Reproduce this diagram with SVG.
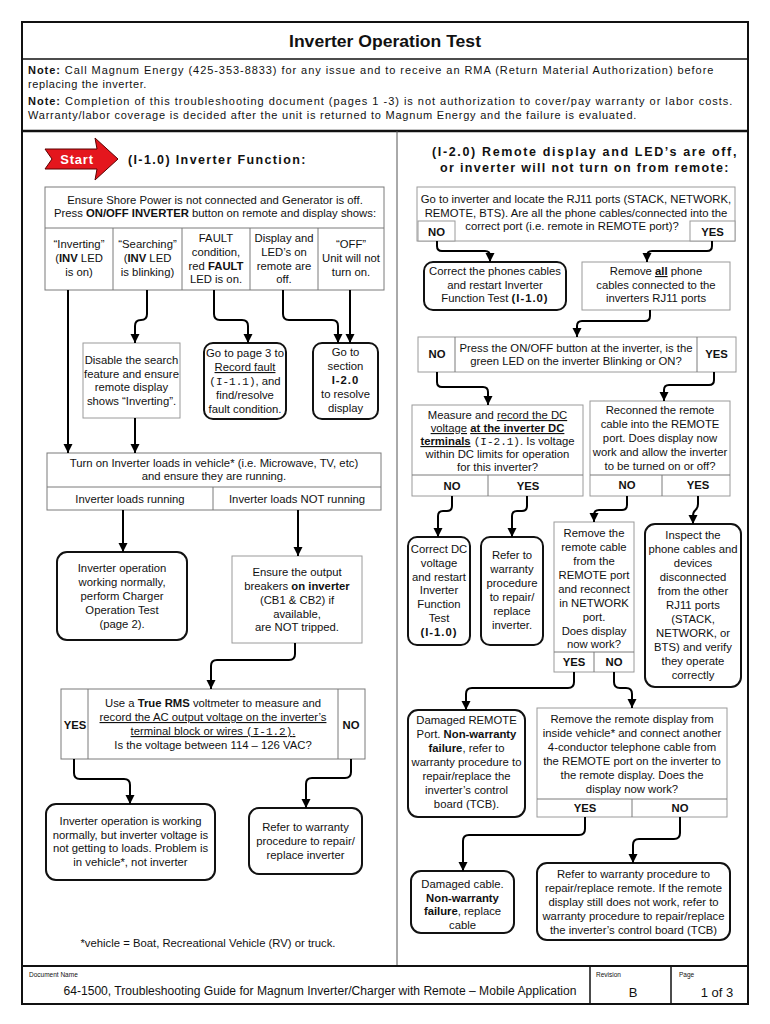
<svg xmlns="http://www.w3.org/2000/svg" width="770" height="1024" viewBox="0 0 770 1024">
<defs>
<marker id="ah" markerUnits="userSpaceOnUse" markerWidth="10" markerHeight="10" refX="9" refY="5" orient="auto"><path d="M0,0.5 L9,5 L0,9.5 z" fill="#000"/></marker>
<style>
text{font-family:"Liberation Sans",Arial,Helvetica,sans-serif;font-size:11.3px;fill:#111;text-anchor:middle}
.l{text-anchor:start}
.b{font-weight:bold}
.u{text-decoration:underline}
.m{font-family:"Liberation Mono","Courier New",monospace;font-size:11px}
.sp{letter-spacing:1px}
.note{font-size:11px;letter-spacing:0.6px;text-anchor:start}
.h{font-weight:bold;font-size:12.5px;letter-spacing:1.6px}
.rb{fill:#fff;stroke:#111;stroke-width:2}
.gb{fill:#fff;stroke:#9a9a9a;stroke-width:1}
.tb{fill:#fff;stroke:#7a7a7a;stroke-width:1}
.ln{stroke:#7a7a7a;stroke-width:1}
.c{fill:none;stroke:#000;stroke-width:2;marker-end:url(#ah)}
.sm{font-size:6.5px;text-anchor:start}
</style>
</defs>
<rect width="770" height="1024" fill="#fff"/>

<g id="frame">
<rect x="22" y="22" width="726" height="982" fill="none" stroke="#111" stroke-width="2"/>
<line x1="22" y1="59" x2="748" y2="59" stroke="#111" stroke-width="1.5"/>
<line x1="22" y1="131" x2="748" y2="131" stroke="#111" stroke-width="2.5"/>
<line x1="397" y1="131" x2="397" y2="966" stroke="#555" stroke-width="1"/>
<line x1="22" y1="966" x2="748" y2="966" stroke="#111" stroke-width="2"/>
<line x1="590" y1="966" x2="590" y2="1004" stroke="#111" stroke-width="1.5"/>
<line x1="671" y1="966" x2="671" y2="1004" stroke="#111" stroke-width="1.5"/>
</g>

<g id="header">
<text x="385" y="47" class="b" style="font-size:17px" textLength="192" lengthAdjust="spacingAndGlyphs">Inverter Operation Test</text>
<text x="28" y="74" class="note" textLength="686"><tspan class="b">Note:</tspan> Call Magnum Energy (425-353-8833) for any issue and to receive an RMA (Return Material Authorization) before</text>
<text x="28" y="88" class="note">replacing the inverter.</text>
<text x="28" y="105" class="note" textLength="705"><tspan class="b">Note:</tspan> Completion of this troubleshooting document (pages 1 -3) is not authorization to cover/pay warranty or labor costs.</text>
<text x="28" y="119" class="note" textLength="609">Warranty/labor coverage is decided after the unit is returned to Magnum Energy and the failure is evaluated.</text>
</g>

<g id="start">
<path d="M45,149 L97,149 L95,138 L118,159 L95,180 L97,169 L45,169 L52,159 Z" fill="#e4161d" stroke="#5a0000" stroke-width="1"/>
<text x="77" y="164" class="b" style="fill:#fff;font-size:13px;letter-spacing:0.8px">Start</text>
<text x="128" y="164" class="h l" textLength="179">(I-1.0) Inverter Function:</text>
</g>

<g id="n-ensure">
<rect x="45" y="187" width="339" height="103" class="tb"/>
<line x1="45" y1="228" x2="384" y2="228" class="ln"/>
<line x1="113" y1="228" x2="113" y2="290" class="ln"/>
<line x1="182" y1="228" x2="182" y2="290" class="ln"/>
<line x1="250" y1="228" x2="250" y2="290" class="ln"/>
<line x1="318" y1="228" x2="318" y2="290" class="ln"/>
<text x="215" y="204">Ensure Shore Power is not connected and Generator is off.</text>
<text x="215" y="217">Press <tspan class="b">ON/OFF INVERTER</tspan> button on remote and display shows:</text>
<text x="79" y="248">“Inverting”</text>
<text x="79" y="262">(<tspan class="b">INV</tspan> LED</text>
<text x="79" y="276">is on)</text>
<text x="147.5" y="248">“Searching”</text>
<text x="147.5" y="262">(<tspan class="b">INV</tspan> LED</text>
<text x="147.5" y="276">is blinking)</text>
<text x="216" y="242">FAULT</text>
<text x="216" y="256">condition,</text>
<text x="216" y="270">red <tspan class="b">FAULT</tspan></text>
<text x="216" y="283">LED is on.</text>
<text x="284" y="242">Display and</text>
<text x="284" y="256">LED’s on</text>
<text x="284" y="270">remote are</text>
<text x="284" y="283">off.</text>
<text x="351" y="248">“OFF”</text>
<text x="351" y="262">Unit will not</text>
<text x="351" y="276">turn on.</text>
</g>

<g id="n-disable">
<rect x="83" y="343" width="97" height="75" class="gb"/>
<text x="131.5" y="364">Disable the search</text>
<text x="131.5" y="378">feature and ensure</text>
<text x="131.5" y="391">remote display</text>
<text x="131.5" y="405">shows “Inverting”.</text>
</g>

<g id="n-page3">
<rect x="204" y="343" width="82" height="76" rx="9" class="rb"/>
<text x="245" y="357">Go to page 3 to</text>
<text x="245" y="371" class="u">Record fault</text>
<text x="245" y="385"><tspan class="m">(I-1.1)</tspan>, and</text>
<text x="245" y="399">find/resolve</text>
<text x="245" y="413">fault condition.</text>
</g>

<g id="n-section">
<rect x="313" y="343" width="65" height="76" rx="9" class="rb"/>
<text x="345.5" y="356">Go to</text>
<text x="345.5" y="370">section</text>
<text x="345.5" y="384" class="b sp">I-2.0</text>
<text x="345.5" y="398">to resolve</text>
<text x="345.5" y="412">display</text>
</g>

<g id="n-loads">
<rect x="47" y="453" width="334" height="57" class="tb"/>
<line x1="47" y1="487" x2="381" y2="487" class="ln"/>
<line x1="213" y1="487" x2="213" y2="510" class="ln"/>
<text x="214" y="467">Turn on Inverter loads in vehicle* (i.e. Microwave, TV, etc)</text>
<text x="214" y="480">and ensure they are running.</text>
<text x="130" y="503">Inverter loads running</text>
<text x="297" y="503">Inverter loads NOT running</text>
</g>

<g id="n-normal">
<rect x="57" y="552" width="130" height="88" rx="10" class="rb"/>
<text x="122" y="572">Inverter operation</text>
<text x="122" y="586">working normally,</text>
<text x="122" y="600">perform Charger</text>
<text x="122" y="614">Operation Test</text>
<text x="122" y="628">(page 2).</text>
</g>

<g id="n-breakers">
<rect x="232" y="556" width="130" height="87" class="gb"/>
<text x="297" y="576">Ensure the output</text>
<text x="297" y="590">breakers <tspan class="b">on inverter</tspan></text>
<text x="297" y="604">(CB1 &amp; CB2) if</text>
<text x="297" y="618">available,</text>
<text x="297" y="631">are NOT tripped.</text>
</g>

<g id="n-rms">
<rect x="61" y="689" width="304" height="70" class="tb"/>
<line x1="88" y1="689" x2="88" y2="759" class="ln"/>
<line x1="338" y1="689" x2="338" y2="759" class="ln"/>
<text x="75" y="729" class="b">YES</text>
<text x="351" y="729" class="b">NO</text>
<text x="213" y="707">Use a <tspan class="b">True RMS</tspan> voltmeter to measure and</text>
<text x="213" y="721" class="u">record the AC output voltage on the inverter’s</text>
<text x="213" y="735" class="u">terminal block or wires <tspan class="m">(I-1.2)</tspan>.</text>
<text x="213" y="749">Is the voltage between 114 – 126 VAC?</text>
</g>

<g id="n-vehicle">
<rect x="46" y="804" width="169" height="76" rx="10" class="rb"/>
<text x="130.5" y="825">Inverter operation is working</text>
<text x="130.5" y="839">normally, but inverter voltage is</text>
<text x="130.5" y="852">not getting to loads. Problem is</text>
<text x="130.5" y="866">in vehicle*, not inverter</text>
</g>

<g id="n-refer-inv">
<rect x="249" y="808" width="113" height="66" rx="10" class="rb"/>
<text x="305.5" y="831">Refer to warranty</text>
<text x="305.5" y="845">procedure to repair/</text>
<text x="305.5" y="859">replace inverter</text>
</g>

<g id="footnote">
<text x="208" y="947">*vehicle = Boat, Recreational Vehicle (RV) or truck.</text>
</g>

<g id="r-title">
<text x="585" y="156" class="h" textLength="306">(I-2.0) Remote display and LED’s are off,</text>
<text x="585" y="172" class="h" textLength="290">or inverter will not turn on from remote:</text>
</g>

<g id="r-ports">
<rect x="417" y="187" width="318" height="54" class="gb"/>
<rect x="418" y="221" width="37" height="20" class="gb"/>
<rect x="690" y="221" width="45" height="20" class="gb"/>
<text x="576" y="203">Go to inverter and locate the RJ11 ports (STACK, NETWORK,</text>
<text x="576" y="217">REMOTE, BTS). Are all the phone cables/connected into the</text>
<text x="572" y="230">correct port (i.e. remote in REMOTE port)?</text>
<text x="436.5" y="236" class="b">NO</text>
<text x="712.5" y="236" class="b">YES</text>
</g>

<g id="r-correct">
<rect x="424" y="262" width="142" height="48" rx="9" class="rb"/>
<text x="495" y="275">Correct the phones cables</text>
<text x="495" y="289">and restart Inverter</text>
<text x="495" y="302">Function Test <tspan class="b sp">(I-1.0)</tspan></text>
</g>

<g id="r-removeall">
<rect x="582" y="262" width="148" height="48" class="gb"/>
<text x="656" y="275">Remove <tspan class="b u">all</tspan> phone</text>
<text x="656" y="289">cables connected to the</text>
<text x="656" y="302">inverters RJ11 ports</text>
</g>

<g id="r-press">
<rect x="418" y="337" width="318" height="35" class="gb"/>
<line x1="455" y1="337" x2="455" y2="372" class="ln"/>
<line x1="697" y1="337" x2="697" y2="372" class="ln"/>
<text x="437" y="358" class="b">NO</text>
<text x="716.5" y="358" class="b">YES</text>
<text x="576" y="352">Press the ON/OFF button at the inverter, is the</text>
<text x="576" y="365">green LED on the inverter Blinking or ON?</text>
</g>

<g id="r-measure">
<rect x="412" y="405" width="171" height="91" class="gb"/>
<line x1="412" y1="475" x2="583" y2="475" class="ln"/>
<line x1="488" y1="475" x2="488" y2="496" class="ln"/>
<text x="497.5" y="419">Measure and <tspan class="u">record  the DC</tspan></text>
<text x="497.5" y="432"><tspan class="u">voltage</tspan> <tspan class="b u">at the inverter DC</tspan></text>
<text x="497.5" y="445"><tspan class="b u">terminals</tspan> <tspan class="m">(I-2.1)</tspan>. Is voltage</text>
<text x="497.5" y="458">within DC limits for operation</text>
<text x="497.5" y="471">for this inverter?</text>
<text x="452" y="490" class="b">NO</text>
<text x="528" y="490" class="b">YES</text>
</g>

<g id="r-reconnect">
<rect x="590" y="401" width="140" height="95" class="gb"/>
<line x1="590" y1="475" x2="730" y2="475" class="ln"/>
<line x1="662" y1="475" x2="662" y2="496" class="ln"/>
<text x="660" y="414">Reconned the remote</text>
<text x="660" y="428">cable into the REMOTE</text>
<text x="660" y="442">port. Does display now</text>
<text x="660" y="456">work and allow the inverter</text>
<text x="660" y="470">to be turned on or off?</text>
<text x="627" y="489" class="b">NO</text>
<text x="698" y="489" class="b">YES</text>
</g>

<g id="r-correctdc">
<rect x="408" y="537" width="62" height="108" rx="9" class="rb"/>
<text x="439" y="553">Correct DC</text>
<text x="439" y="567">voltage</text>
<text x="439" y="581">and restart</text>
<text x="439" y="594">Inverter</text>
<text x="439" y="608">Function</text>
<text x="439" y="622">Test</text>
<text x="439" y="636" class="b sp">(I-1.0)</text>
</g>

<g id="r-refer-inv">
<rect x="481" y="537" width="62" height="108" rx="9" class="rb"/>
<text x="512" y="559">Refer to</text>
<text x="512" y="573">warranty</text>
<text x="512" y="587">procedure</text>
<text x="512" y="601">to repair/</text>
<text x="512" y="615">replace</text>
<text x="512" y="629">inverter.</text>
</g>

<g id="r-network">
<rect x="554" y="522" width="80" height="150" class="gb"/>
<line x1="554" y1="652" x2="634" y2="652" class="ln"/>
<line x1="594" y1="652" x2="594" y2="672" class="ln"/>
<text x="594" y="537">Remove the</text>
<text x="594" y="551">remote cable</text>
<text x="594" y="565">from the</text>
<text x="594" y="579">REMOTE port</text>
<text x="594" y="593">and reconnect</text>
<text x="594" y="607">in NETWORK</text>
<text x="594" y="621">port.</text>
<text x="594" y="635">Does display</text>
<text x="594" y="648">now work?</text>
<text x="574" y="666" class="b">YES</text>
<text x="614" y="666" class="b">NO</text>
</g>

<g id="r-inspect">
<rect x="645" y="524" width="96" height="163" rx="10" class="rb"/>
<text x="693" y="539">Inspect the</text>
<text x="693" y="553">phone cables and</text>
<text x="693" y="567">devices</text>
<text x="693" y="581">disconnected</text>
<text x="693" y="595">from the other</text>
<text x="693" y="609">RJ11 ports</text>
<text x="693" y="623">(STACK,</text>
<text x="693" y="637">NETWORK, or</text>
<text x="693" y="651">BTS) and verify</text>
<text x="693" y="665">they operate</text>
<text x="693" y="679">correctly</text>
</g>

<g id="r-damaged-port">
<rect x="408" y="710" width="117" height="107" rx="10" class="rb"/>
<text x="466.5" y="724">Damaged REMOTE</text>
<text x="466.5" y="738">Port. <tspan class="b">Non-warranty</tspan></text>
<text x="466.5" y="752"><tspan class="b">failure</tspan>, refer to</text>
<text x="466.5" y="766">warranty procedure to</text>
<text x="466.5" y="780">repair/replace the</text>
<text x="466.5" y="794">inverter’s control</text>
<text x="466.5" y="808">board (TCB).</text>
</g>

<g id="r-telephone">
<rect x="537" y="708" width="190" height="109" class="gb"/>
<line x1="537" y1="799" x2="727" y2="799" class="ln"/>
<line x1="632" y1="799" x2="632" y2="817" class="ln"/>
<text x="632" y="723">Remove the remote display from</text>
<text x="632" y="737">inside vehicle* and connect another</text>
<text x="632" y="751">4-conductor telephone cable from</text>
<text x="632" y="765">the REMOTE port on the inverter to</text>
<text x="632" y="779">the remote display. Does the</text>
<text x="632" y="793">display now work?</text>
<text x="585" y="812" class="b">YES</text>
<text x="680" y="812" class="b">NO</text>
</g>

<g id="r-damaged-cable">
<rect x="411" y="871" width="103" height="62" rx="10" class="rb"/>
<text x="462.5" y="888">Damaged cable.</text>
<text x="462.5" y="902" class="b">Non-warranty</text>
<text x="462.5" y="915"><tspan class="b">failure</tspan>, replace</text>
<text x="462.5" y="929">cable</text>
</g>

<g id="r-refer-remote">
<rect x="537" y="863" width="193" height="77" rx="10" class="rb"/>
<text x="633.5" y="878">Refer to warranty procedure to</text>
<text x="633.5" y="892">repair/replace remote. If the remote</text>
<text x="633.5" y="906">display still does not work, refer to</text>
<text x="633.5" y="920">warranty procedure to repair/replace</text>
<text x="633.5" y="934">the inverter’s control board (TCB)</text>
</g>

<g id="footer">
<text x="29" y="977" class="sm">Document Name</text>
<text x="320" y="995" style="font-size:12.5px" textLength="513" lengthAdjust="spacingAndGlyphs">64-1500, Troubleshooting Guide for Magnum Inverter/Charger with Remote – Mobile Application</text>
<text x="596" y="977" class="sm">Revision</text>
<text x="633" y="997" style="font-size:13px">B</text>
<text x="679" y="977" class="sm">Page</text>
<text x="717" y="997" style="font-size:13px">1 of 3</text>
</g>

<g id="connectors">
<path class="c" d="M68,290 V453"/>
<path class="c" d="M147,290 V314 Q147,320 141,320 Q135,320 135,326 V343"/>
<path class="c" d="M214,290 V314 Q214,320 220,320 H242 Q248,320 248,326 V343"/>
<path class="c" d="M283,290 V314 Q283,320 289,320 H332 Q338,320 338,326 V343"/>
<path class="c" d="M350,290 V343"/>
<path class="c" d="M135,418 V453"/>
<path class="c" d="M123,510 V552"/>
<path class="c" d="M298,510 V556"/>
<path class="c" d="M295,643 V654 Q295,660 289,660 H217 Q211,660 211,666 V689"/>
<path class="c" d="M74,759 V773 Q74,779 80,779 H124 Q130,779 130,785 V804"/>
<path class="c" d="M351,759 V772 Q351,778 345,778 H312 Q306,778 306,784 V808"/>
<path class="c" d="M437,241 V246 Q437,251 442,251 H485 Q490,251 490,256 V262"/>
<path class="c" d="M712,241 V246 Q712,251 707,251 H652 Q647,251 647,256 V262"/>
<path class="c" d="M650,310 V316 Q650,321 645,321 H582 Q577,321 577,326 V337"/>
<path class="c" d="M437,372 V382 Q437,387 442,387 H483 Q488,387 488,392 V405"/>
<path class="c" d="M714,372 V380 Q714,385 709,385 H669 Q664,385 664,390 V401"/>
<path class="c" d="M452,496 V506 Q452,511 447,511 H443 Q438,511 438,516 V537"/>
<path class="c" d="M527,496 V506 Q527,511 522,511 H517 Q512,511 512,516 V537"/>
<path class="c" d="M627,496 V505 Q627,510 622,510 H599 Q594,510 594,515 V522"/>
<path class="c" d="M698,496 V504 C698,512 693,508 693,516 V524"/>
<path class="c" d="M574,672 V682 Q574,688 568,688 H472 Q466,688 466,694 V710"/>
<path class="c" d="M614,672 V682 Q614,688 620,688 H626 Q632,688 632,694 V708"/>
<path class="c" d="M585,817 V829 Q585,835 579,835 H469 Q463,835 463,841 V871"/>
<path class="c" d="M680,817 V833 Q680,839 674,839 H639 Q633,839 633,845 V863"/>
</g>
</svg>
